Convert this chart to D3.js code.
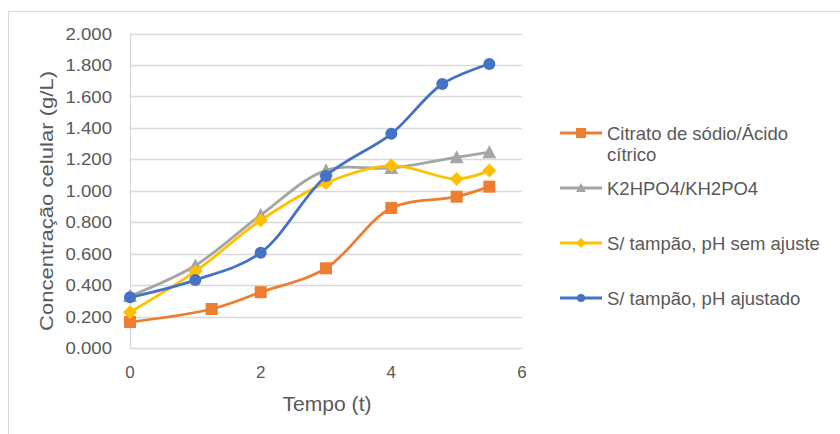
<!DOCTYPE html>
<html><head><meta charset="utf-8">
<script src="https://cdn.jsdelivr.net/npm/d3@7"></script>
<style>body{margin:0;background:#fff}svg{display:block}text{font-family:"Liberation Sans",Arial,sans-serif;fill:#595959}</style>
</head><body><svg id="c" width="840" height="434"></svg>
<script>
const seriesNames = ["Citrato de sódio/Ácido cítrico","K2HPO4/KH2PO4","S/ tampão, pH sem ajuste","S/ tampão, pH ajustado"];
const citratoT = [0,1.25,2,3,4,5,5.5];
const citratoV = [0.165,0.248,0.355,0.507,0.890,0.962,1.026];
const k2hpoT = [0,1,2,3,4,5,5.5];
const k2hpoV = [0.33,0.525,0.845,1.13,1.145,1.213,1.245];
const semAjusteT = [0,1,2,3,4,5,5.5];
const semAjusteV = [0.227,0.487,0.812,1.05,1.16,1.075,1.128];
const ajustadoT = [0,1,2,3,4,4.78,5.5];
const ajustadoV = [0.322,0.432,0.606,1.094,1.362,1.679,1.806];
const yTicks = [0,0.2,0.4,0.6,0.8,1.0,1.2,1.4,1.6,1.8,2.0];
const xTicks = [0,2,4,6];
const colors = ["#ED7D31","#A5A5A5","#FFC000","#4472C4"];
const markers = ["square","triangle","diamond","circle"];

const svg = d3.select("#c");
svg.append("rect").attr("x",8.5).attr("y",11.5).attr("width",840).attr("height",440)
  .attr("fill","none").attr("stroke","#d9d9d9").attr("stroke-width",1);

const x = d3.scaleLinear().domain([0,6]).range([130,522]);
const y = d3.scaleLinear().domain([0,2]).range([348,33.5]);

// gridlines
svg.append("g").selectAll("line").data(yTicks).join("line")
  .attr("x1",x(0)).attr("x2",x(6)).attr("y1",d=>Math.round(y(d))+0.5).attr("y2",d=>Math.round(y(d))+0.5)
  .attr("stroke","#d9d9d9").attr("stroke-width",1.3);
svg.append("line").attr("x1",x(0)+0.5).attr("x2",x(0)+0.5).attr("y1",y(2)).attr("y2",y(0))
  .attr("stroke","#d9d9d9").attr("stroke-width",1.3);

// axes labels
const fmt = d3.format(".3f");
svg.append("g").selectAll("text").data(yTicks).join("text")
  .attr("x",112).attr("y",d=>y(d)).attr("dy","0.36em").attr("text-anchor","end")
  .attr("font-size",17).attr("textLength",46.5).attr("lengthAdjust","spacingAndGlyphs").text(d=>fmt(d));
svg.append("g").selectAll("text").data(xTicks).join("text")
  .attr("x",d=>x(d)).attr("y",378).attr("text-anchor","middle")
  .attr("font-size",17).text(d=>d);
svg.append("text").attr("x",327).attr("y",411).attr("text-anchor","middle").attr("font-size",21)
  .attr("textLength",89).attr("lengthAdjust","spacingAndGlyphs").text("Tempo (t)");
svg.append("text").attr("transform","translate(53,201) rotate(-90)").attr("text-anchor","middle")
  .attr("font-size",18).attr("textLength",260).attr("lengthAdjust","spacingAndGlyphs").text("Concentração celular (g/L)");

const data = [
  citratoT.map((t,i)=>[t,citratoV[i]]),
  k2hpoT.map((t,i)=>[t,k2hpoV[i]]),
  semAjusteT.map((t,i)=>[t,semAjusteV[i]]),
  ajustadoT.map((t,i)=>[t,ajustadoV[i]])
];
const line = d3.line().x(d=>x(d[0])).y(d=>y(d[1])).curve(d3.curveCatmullRom.alpha(0.5));

function marker(g, type, cx, cy, col, s){
  if(type==="square") g.append("rect").attr("x",cx-s/2).attr("y",cy-s/2).attr("width",s).attr("height",s).attr("fill",col);
  else if(type==="circle") g.append("circle").attr("cx",cx).attr("cy",cy).attr("r",s/2).attr("fill",col);
  else if(type==="diamond") g.append("path").attr("d",`M${cx},${cy-s/2-1}L${cx+s/2+1},${cy}L${cx},${cy+s/2+1}L${cx-s/2-1},${cy}Z`).attr("fill",col);
  else g.append("path").attr("d",`M${cx},${cy-s/2-1}L${cx+s/2+1},${cy+s/2}L${cx-s/2-1},${cy+s/2}Z`).attr("fill",col);
}

data.forEach((d,i)=>{
  const g = svg.append("g");
  g.append("path").attr("d",line(d)).attr("fill","none").attr("stroke",colors[i]).attr("stroke-width",2.8);
  d.forEach(p=>marker(g,markers[i],x(p[0]),y(p[1]),colors[i],12));
});

// legend
const legY = [133,188,243,298];
seriesNames.forEach((n,i)=>{
  const g = svg.append("g");
  g.append("line").attr("x1",560).attr("x2",602).attr("y1",legY[i]).attr("y2",legY[i]).attr("stroke",colors[i]).attr("stroke-width",2.8);
  marker(g,markers[i],581,legY[i],colors[i],i===0?10:8);
  const t = g.append("text").attr("x",607).attr("y",legY[i]).attr("dy","0.36em").attr("font-size",18.5);
  if(i===0){
    t.append("tspan").attr("x",607).text("Citrato de sódio/Ácido");
    t.append("tspan").attr("x",607).attr("dy","21").text("cítrico");
  } else t.text(n);
});
</script></body></html>
